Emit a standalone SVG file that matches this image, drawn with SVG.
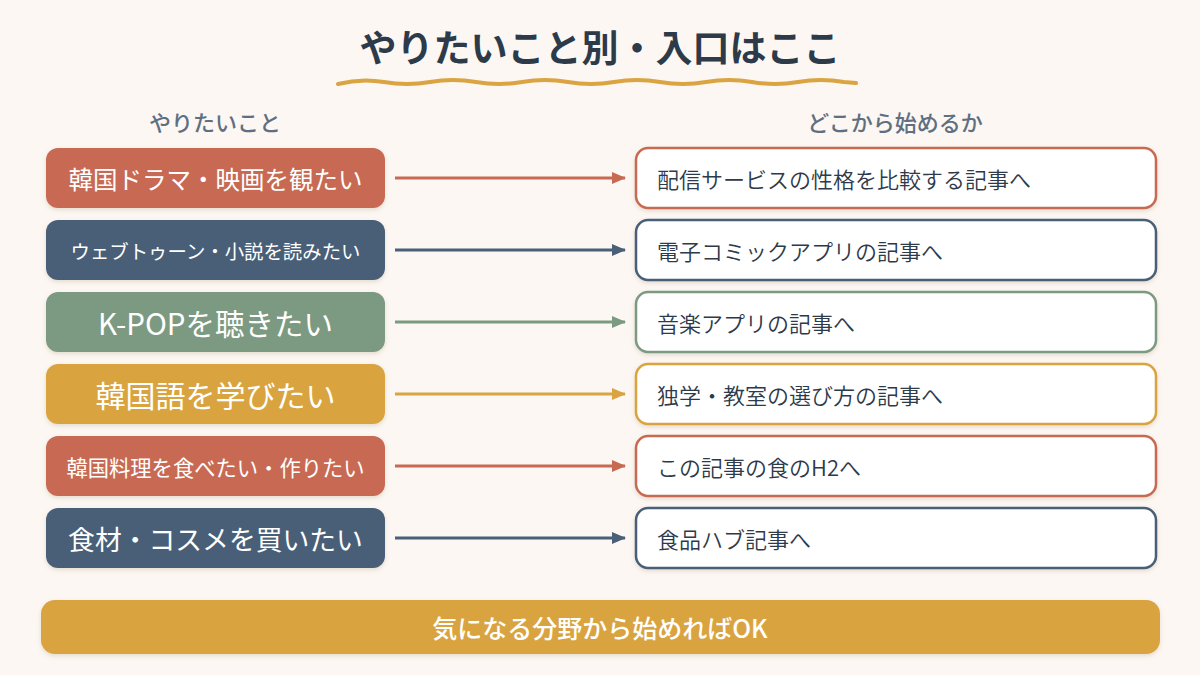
<svg xmlns="http://www.w3.org/2000/svg" width="1200" height="675" viewBox="0 0 1200 675">
  <defs>
    <filter id="sh" x="-10%" y="-20%" width="120%" height="150%">
      <feDropShadow dx="0" dy="2" stdDeviation="2" flood-color="#7a5a40" flood-opacity="0.18"/>
    </filter>
    <marker id="ar-red" markerWidth="14" markerHeight="12" refX="13" refY="6" orient="auto" markerUnits="userSpaceOnUse"><path d="M0,0 L14,6 L0,12 z" fill="#c86a52"/></marker>
    <marker id="ar-navy" markerWidth="14" markerHeight="12" refX="13" refY="6" orient="auto" markerUnits="userSpaceOnUse"><path d="M0,0 L14,6 L0,12 z" fill="#4a5f78"/></marker>
    <marker id="ar-green" markerWidth="14" markerHeight="12" refX="13" refY="6" orient="auto" markerUnits="userSpaceOnUse"><path d="M0,0 L14,6 L0,12 z" fill="#7b9a82"/></marker>
    <marker id="ar-gold" markerWidth="14" markerHeight="12" refX="13" refY="6" orient="auto" markerUnits="userSpaceOnUse"><path d="M0,0 L14,6 L0,12 z" fill="#d9a441"/></marker>
  </defs>
  <style>
    text { font-family: "Noto Sans CJK JP", "Noto Sans", sans-serif; }
    .title { font-size: 37px; font-weight: 700; fill: #2d3a4a; }
    .sub { font-size: 22px; font-weight: 500; fill: #5f6f82; }
    .lt { fill: #ffffff; font-weight: 400; }
    .rt { font-size: 22px; fill: #2d3a4a; font-weight: 350; }
    .lbox { filter: url(#sh); }
    .rbox { fill: #ffffff; stroke-width: 2.5; filter: url(#sh); }
    .red { fill: #c86a52; }
    .navy { fill: #4a5f78; }
    .green { fill: #7b9a82; }
    .gold { fill: #d9a441; }
    .sred { stroke: #c86a52; }
    .snavy { stroke: #4a5f78; }
    .sgreen { stroke: #7b9a82; }
    .sgold { stroke: #d9a441; }
    .conn line { stroke-width: 3; fill: none; }
  </style>
  <rect width="1200" height="675" fill="#fcf7f2"/>

  <g id="title">
    <text class="title" x="600" y="62" text-anchor="middle">やりたいこと別・入口はここ</text>
    <path d="M338,84 Q361,78 384,82 T430,82 T476,82 T522,82 T568,82 T614,82 T660,82 T706,82 T752,82 T798,82 T844,82 L856,83" fill="none" stroke="#d9a441" stroke-width="4" stroke-linecap="round"/>
  </g>

  <g id="headers">
    <text class="sub" x="215" y="121" text-anchor="middle" dominant-baseline="central">やりたいこと</text>
    <text class="sub" x="895" y="121" text-anchor="middle" dominant-baseline="central">どこから始めるか</text>
  </g>

  <g id="left-1"><rect class="lbox red" x="46" y="148" width="339" height="60" rx="12"/><text class="lt" x="215.5" y="178" font-size="24.5" text-anchor="middle" dominant-baseline="central">韓国ドラマ・映画を観たい</text></g>
  <g id="left-2"><rect class="lbox navy" x="46" y="220" width="339" height="60" rx="12"/><text class="lt" x="215.5" y="250" font-size="19.4" text-anchor="middle" dominant-baseline="central">ウェブトゥーン・小説を読みたい</text></g>
  <g id="left-3"><rect class="lbox green" x="46" y="292" width="339" height="60" rx="12"/><text class="lt" x="215.5" y="322" font-size="29.5" text-anchor="middle" dominant-baseline="central">K-POPを聴きたい</text></g>
  <g id="left-4"><rect class="lbox gold" x="46" y="364" width="339" height="60" rx="12"/><text class="lt" x="215.5" y="394" font-size="30" text-anchor="middle" dominant-baseline="central">韓国語を学びたい</text></g>
  <g id="left-5"><rect class="lbox red" x="46" y="436" width="339" height="60" rx="12"/><text class="lt" x="215.5" y="466" font-size="21.3" text-anchor="middle" dominant-baseline="central">韓国料理を食べたい・作りたい</text></g>
  <g id="left-6"><rect class="lbox navy" x="46" y="508" width="339" height="60" rx="12"/><text class="lt" x="215.5" y="538" font-size="26.8" text-anchor="middle" dominant-baseline="central">食材・コスメを買いたい</text></g>

  <g id="right-1"><rect class="rbox sred" x="636" y="148" width="520" height="60" rx="12"/><text class="rt" x="657" y="178" dominant-baseline="central">配信サービスの性格を比較する記事へ</text></g>
  <g id="right-2"><rect class="rbox snavy" x="636" y="220" width="520" height="60" rx="12"/><text class="rt" x="657" y="250" dominant-baseline="central">電子コミックアプリの記事へ</text></g>
  <g id="right-3"><rect class="rbox sgreen" x="636" y="292" width="520" height="60" rx="12"/><text class="rt" x="657" y="322" dominant-baseline="central">音楽アプリの記事へ</text></g>
  <g id="right-4"><rect class="rbox sgold" x="636" y="364" width="520" height="60" rx="12"/><text class="rt" x="657" y="394" dominant-baseline="central">独学・教室の選び方の記事へ</text></g>
  <g id="right-5"><rect class="rbox sred" x="636" y="436" width="520" height="60" rx="12"/><text class="rt" x="657" y="466" dominant-baseline="central">この記事の食のH2へ</text></g>
  <g id="right-6"><rect class="rbox snavy" x="636" y="508" width="520" height="60" rx="12"/><text class="rt" x="657" y="538" dominant-baseline="central">食品ハブ記事へ</text></g>

  <g id="connectors" class="conn">
    <line x1="395" y1="178" x2="625" y2="178" stroke="#c86a52" marker-end="url(#ar-red)"/>
    <line x1="395" y1="250" x2="625" y2="250" stroke="#4a5f78" marker-end="url(#ar-navy)"/>
    <line x1="395" y1="322" x2="625" y2="322" stroke="#7b9a82" marker-end="url(#ar-green)"/>
    <line x1="395" y1="394" x2="625" y2="394" stroke="#d9a441" marker-end="url(#ar-gold)"/>
    <line x1="395" y1="466" x2="625" y2="466" stroke="#c86a52" marker-end="url(#ar-red)"/>
    <line x1="395" y1="538" x2="625" y2="538" stroke="#4a5f78" marker-end="url(#ar-navy)"/>
  </g>

  <g id="footer">
    <rect class="lbox gold" x="41" y="600" width="1119" height="54" rx="14"/>
    <text x="600" y="627" font-size="25" font-weight="500" fill="#ffffff" text-anchor="middle" dominant-baseline="central">気になる分野から始めればOK</text>
  </g>
</svg>
